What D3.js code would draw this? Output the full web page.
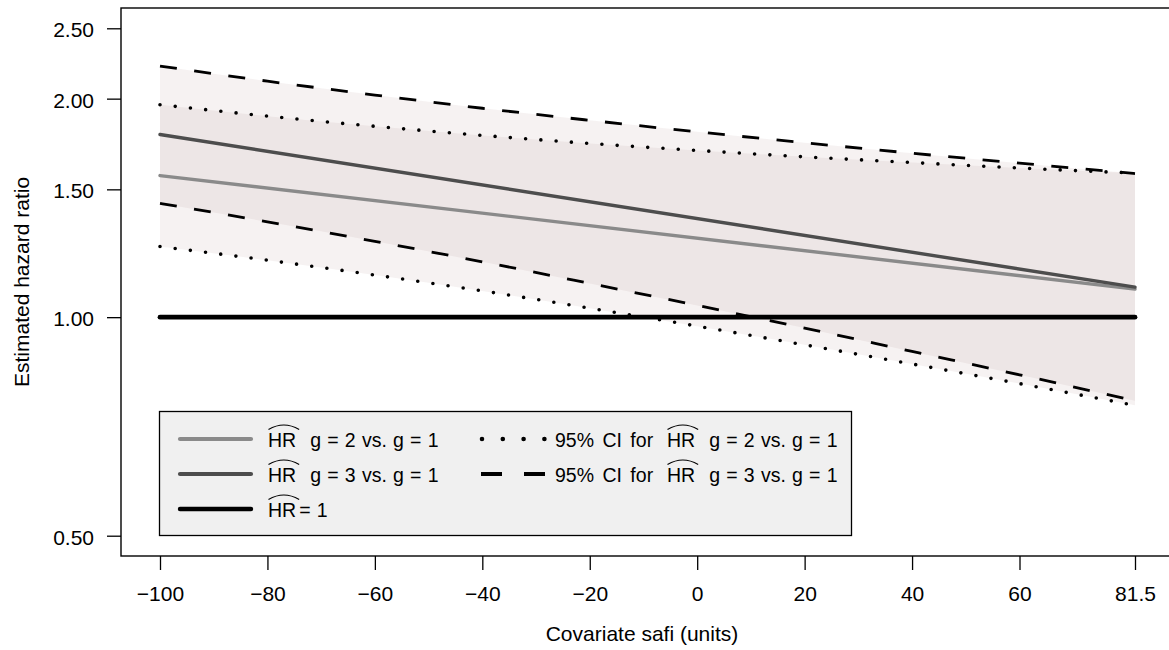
<!DOCTYPE html>
<html>
<head>
<meta charset="utf-8">
<script src="https://cdn.jsdelivr.net/npm/d3@7"></script>
<style>
  html, body { margin: 0; padding: 0; background: #ffffff; }
  svg { display: block; font-family: "Liberation Sans", Arial, Helvetica, sans-serif; }
</style>
</head>
<body>
<svg id="chart" width="1169" height="650"></svg>
<script>
// ---------------- data ----------------
const covariate = [-100, 81.5];                 // safi values (HR line end points)
const hrG2 = [1.567, 1.093];                    // HR g=2 vs g=1
const hrG3 = [1.785, 1.100];                    // HR g=3 vs g=1
const refHR = [1, 1];                           // HR = 1 reference

const covariateCI = [-100, -80, -60, -40, -20, 0, 20, 40, 60, 81.5];
const ciG2Lower = [1.251, 1.198, 1.143, 1.087, 1.029, 0.972, 0.916, 0.862, 0.810, 0.756];
const ciG2Upper = [1.962, 1.892, 1.832, 1.780, 1.735, 1.697, 1.663, 1.633, 1.605, 1.579];
const ciG3Lower = [1.435, 1.353, 1.272, 1.192, 1.113, 1.038, 0.966, 0.897, 0.833, 0.767];
const ciG3Upper = [2.218, 2.114, 2.023, 1.940, 1.867, 1.800, 1.739, 1.682, 1.630, 1.577];

const xTicks = [-100, -80, -60, -40, -20, 0, 20, 40, 60, 81.5];
const xTickLabels = ["\u2212100", "\u221280", "\u221260", "\u221240", "\u221220", "0", "20", "40", "60", "81.5"];
const yTicks = [0.5, 1, 1.5, 2, 2.5];
const yTickLabels = ["0.50", "1.00", "1.50", "2.00", "2.50"];
const xLimits = [-100, 81.5];
const yLimits = [0.5, 2.5];

// ---------------- layout ----------------
const svg = d3.select("#chart");
const plot = { left: 121, right: 1174, top: 8, bottom: 556 };

const xPad = 0.04 * (xLimits[1] - xLimits[0]);
const x = d3.scaleLinear()
  .domain([xLimits[0] - xPad, xLimits[1] + xPad])
  .range([plot.left, plot.right]);

const lspan = Math.log(yLimits[1]) - Math.log(yLimits[0]);
const y = d3.scaleLog()
  .domain([Math.exp(Math.log(yLimits[0]) - 0.04 * lspan), Math.exp(Math.log(yLimits[1]) + 0.04 * lspan)])
  .range([plot.bottom, plot.top]);

const idx = d3.range(covariate.length);
const idxCI = d3.range(covariateCI.length);

// ---------------- bands ----------------
const band = (lo, hi) => d3.area()
  .x(i => x(covariateCI[i]))
  .y0(i => y(lo[i]))
  .y1(i => y(hi[i]))
  .curve(d3.curveMonotoneX);

const bandFill = "rgb(150,110,110)";
svg.append("path").attr("d", band(ciG3Lower, ciG3Upper)(idxCI))
  .attr("fill", bandFill).attr("fill-opacity", 0.085);
svg.append("path").attr("d", band(ciG2Lower, ciG2Upper)(idxCI))
  .attr("fill", bandFill).attr("fill-opacity", 0.085);

// ---------------- lines ----------------
const lineHR = vals => d3.line().x(i => x(covariate[i])).y(i => y(vals[i]))(idx);
const lineCI = vals => d3.line().x(i => x(covariateCI[i])).y(i => y(vals[i])).curve(d3.curveMonotoneX)(idxCI);

const styles = {
  g2: { stroke: "#8a8a8a", width: 3.4, dash: null, cap: "round" },
  g3: { stroke: "#4d4d4d", width: 3.4, dash: null, cap: "round" },
  ref: { stroke: "#000000", width: 4.8, dash: null, cap: "round" },
  dot: { stroke: "#000000", width: 3.6, dash: "0 15.3", cap: "round" },
  dash: { stroke: "#000000", width: 2.8, dash: "17 17.5", cap: "butt" }
};

function drawPath(d, st) {
  const p = svg.append("path").attr("d", d)
    .attr("fill", "none")
    .attr("stroke", st.stroke)
    .attr("stroke-width", st.width)
    .attr("stroke-linecap", st.cap);
  if (st.dash) p.attr("stroke-dasharray", st.dash);
}

drawPath(lineCI(ciG2Upper), styles.dot);
drawPath(lineCI(ciG2Lower), styles.dot);
drawPath(lineCI(ciG3Upper), styles.dash);
drawPath(lineCI(ciG3Lower), styles.dash);
drawPath(lineHR(hrG2), styles.g2);
drawPath(lineHR(hrG3), styles.g3);
drawPath(lineHR(refHR), styles.ref);

// ---------------- box ----------------
svg.append("rect")
  .attr("x", plot.left).attr("y", plot.top)
  .attr("width", plot.right - plot.left).attr("height", plot.bottom - plot.top)
  .attr("fill", "none").attr("stroke", "#000").attr("stroke-width", 1.4);

// ---------------- axes ----------------
const tickFont = 21;
const yAxis = d3.axisLeft(y)
  .tickValues(yTicks)
  .tickFormat((d, i) => yTickLabels[i])
  .tickSize(14).tickPadding(13);
const gy = svg.append("g").attr("transform", `translate(${plot.left},0)`).call(yAxis);
gy.select(".domain").remove();
gy.selectAll(".tick line").attr("stroke", "#000").attr("stroke-width", 1.3);
gy.selectAll(".tick text").attr("font-size", tickFont).attr("fill", "#000")
  .attr("font-family", "Liberation Sans, Arial, sans-serif").attr("dy", "0.40em");

const xAxis = d3.axisBottom(x)
  .tickValues(xTicks)
  .tickFormat((d, i) => xTickLabels[i])
  .tickSize(14).tickPadding(16.5);
const gx = svg.append("g").attr("transform", `translate(0,${plot.bottom})`).call(xAxis);
gx.select(".domain").remove();
gx.selectAll(".tick line").attr("stroke", "#000").attr("stroke-width", 1.3);
gx.selectAll(".tick text").attr("font-size", tickFont).attr("fill", "#000")
  .attr("font-family", "Liberation Sans, Arial, sans-serif");

// axis titles
svg.append("text")
  .attr("x", 642)
  .attr("y", 641)
  .attr("text-anchor", "middle")
  .attr("font-size", 21)
  .text("Covariate safi (units)");

svg.append("text")
  .attr("transform", `translate(29,${(plot.top + plot.bottom) / 2}) rotate(-90)`)
  .attr("text-anchor", "middle")
  .attr("font-size", 21)
  .text("Estimated hazard ratio");

// ---------------- legend ----------------
const legendFont = 19.5;
const lg = svg.append("g");
lg.append("rect")
  .attr("x", 159.5).attr("y", 411.5).attr("width", 692).attr("height", 124)
  .attr("fill", "#f0f0f0").attr("stroke", "#000").attr("stroke-width", 1.3);

const legendItems = [
  { st: { stroke: "#8a8a8a", width: 4.2, dash: null, cap: "round" }, x0: 180, x1: 251, y: 439,
    pre: "", hrX: 268, post: "g = 2 vs. g = 1", postGap: 14 },
  { st: { stroke: "#4d4d4d", width: 4.2, dash: null, cap: "round" }, x0: 180, x1: 251, y: 474,
    pre: "", hrX: 268, post: "g = 3 vs. g = 1", postGap: 14 },
  { st: { stroke: "#000", width: 4.4, dash: null, cap: "round" }, x0: 180, x1: 251, y: 509,
    pre: "", hrX: 268, post: "= 1", postGap: 3 },
  { st: { stroke: "#000", width: 4.6, dash: "0 20.8", cap: "round" }, x0: 482, x1: 546, y: 439,
    pre: "95% CI for", preX: 555, hrX: 667, post: "g = 2 vs. g = 1", postGap: 14 },
  { st: { stroke: "#000", width: 4.2, dash: "21 22", cap: "butt" }, x0: 481, x1: 546, y: 474,
    pre: "95% CI for", preX: 555, hrX: 667, post: "g = 3 vs. g = 1", postGap: 14 }
];

legendItems.forEach(it => {
  const p = lg.append("line")
    .attr("x1", it.x0).attr("x2", it.x1).attr("y1", it.y).attr("y2", it.y)
    .attr("stroke", it.st.stroke).attr("stroke-width", it.st.width)
    .attr("stroke-linecap", it.st.cap);
  if (it.st.dash) p.attr("stroke-dasharray", it.st.dash);
  const base = it.y + 7.5;
  const hrX = it.hrX;
  if (it.pre) {
    lg.append("text").attr("x", it.preX).attr("y", base)
      .attr("font-size", legendFont).attr("word-spacing", "3px").text(it.pre);
  }
  const hr = lg.append("text").attr("x", hrX).attr("y", base)
    .attr("font-size", legendFont).text("HR");
  const w = hr.node().getComputedTextLength();
  const xa = hrX + 0.5, xb = hrX + w + 3;
  lg.append("path")
    .attr("d", `M${xa},${base - 17} Q${(xa + xb) / 2},${base - 26} ${xb},${base - 17}`)
    .attr("fill", "none").attr("stroke", "#000").attr("stroke-width", 1.1);
  lg.append("text").attr("x", hrX + w + it.postGap).attr("y", base)
    .attr("font-size", legendFont).attr("word-spacing", "0.8px").text(it.post);
});
</script>
</body>
</html>
